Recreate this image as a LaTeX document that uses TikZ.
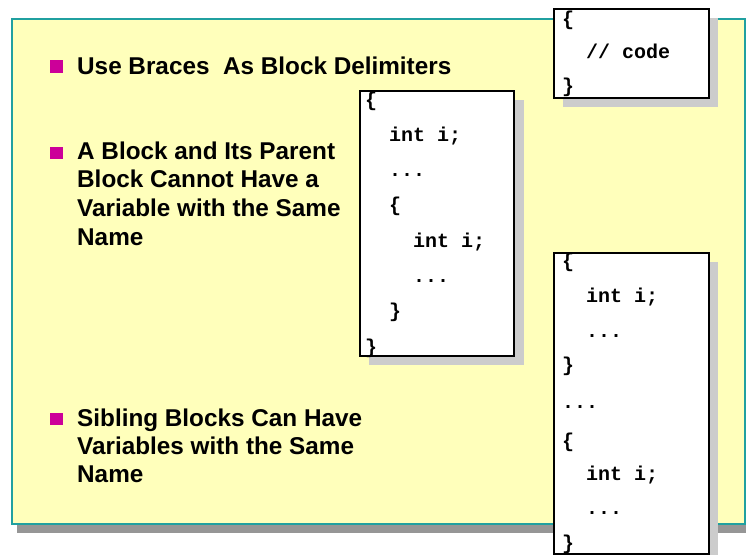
\documentclass[tikz,border=0pt]{standalone}
\usepackage{fontspec}
\setmainfont{Liberation Sans}
\newfontfamily\codefont{Liberation Mono}
\definecolor{panelfill}{RGB}{255,255,187}
\definecolor{panelline}{RGB}{32,160,160}
\definecolor{panelshadow}{RGB}{150,150,150}
\definecolor{boxshadow}{RGB}{204,204,204}
\definecolor{bulletmag}{RGB}{204,0,153}
\tikzset{
  bul/.style={fill=bulletmag, draw=none, minimum size=12.5pt, inner sep=0pt, anchor=south west},
  btext/.style={anchor=base west, inner sep=0pt, font=\bfseries\fontsize{24.3}{28.7}\selectfont},
  codeln/.style={anchor=base west, inner sep=0pt, font=\codefont\bfseries\fontsize{20}{35}\selectfont},
  codebox/.style={draw=black, line width=2pt, fill=white, inner sep=0pt, anchor=north west},
  shadowbox/.style={fill=boxshadow},
}
\begin{document}
\begin{tikzpicture}[x=1pt,y=-1pt]
\useasboundingbox (0,0) rectangle (746,554);
% panel
\fill[panelshadow] (17,28) rectangle (752,533);
\node[draw=panelline, line width=2pt, fill=panelfill, inner sep=0pt, anchor=north west,
      minimum width=733pt, minimum height=505pt] (panel) at (11,18) {};
% code boxes with shadows
\fill[shadowbox] (563,18) rectangle (718,107);
\node[codebox, minimum width=155pt, minimum height=89pt] (box1) at (553,8) {};
\fill[shadowbox] (369,100) rectangle (524,365);
\node[codebox, minimum width=154pt, minimum height=265pt] (box2) at (359,90) {};
\fill[shadowbox] (563,262) rectangle (718,570);
\node[codebox, minimum width=155pt, minimum height=301pt] (box3) at (553,252) {};
% bullets
\node[bul] (b1) at (50,73) {};
\node[bul] (b2) at (50,159.5) {};
\node[bul] (b3) at (50,425.5) {};
\node[btext] (t1) at (77,74) {Use Braces\ \ As Block Delimiters};
\node[btext] (t2a) at (77,159) {A Block and Its Parent};
\node[btext] (t2b) at (77,187.7) {Block Cannot Have a};
\node[btext] (t2c) at (77,216.4) {Variable with the Same};
\node[btext] (t2d) at (77,245.1) {Name};
\node[btext] (t3a) at (77,426) {Sibling Blocks Can Have};
\node[btext] (t3b) at (77,454.3) {Variables with the Same};
\node[btext] (t3c) at (77,482.5) {Name};
% box 1 code
\node[codeln] (c1a) at (562,25) {\{};
\node[codeln] (c1b) at (586,58.5) {// code};
\node[codeln] (c1c) at (562,92) {\}};
% box 2 code
\node[codeln] (c2a) at (365,106) {\{};
\node[codeln] (c2b) at (389,141.3) {int i;};
\node[codeln] (c2c) at (389,176.6) {...};
\node[codeln] (c2d) at (389,211.9) {\{};
\node[codeln] (c2e) at (413,247.2) {int i;};
\node[codeln] (c2f) at (413,282.5) {...};
\node[codeln] (c2g) at (389,317.8) {\}};
\node[codeln] (c2h) at (365,353.1) {\}};
% box 3 code
\node[codeln] (c3a) at (562,267) {\{};
\node[codeln] (c3b) at (586,302.3) {int i;};
\node[codeln] (c3c) at (586,337.6) {...};
\node[codeln] (c3d) at (562,371) {\}};
\node[codeln] (c3e) at (562,408.2) {...};
\node[codeln] (c3f) at (562,447) {\{};
\node[codeln] (c3g) at (586,480) {int i;};
\node[codeln] (c3h) at (586,514.1) {...};
\node[codeln] (c3i) at (562,549.4) {\}};
\end{tikzpicture}
\end{document}
